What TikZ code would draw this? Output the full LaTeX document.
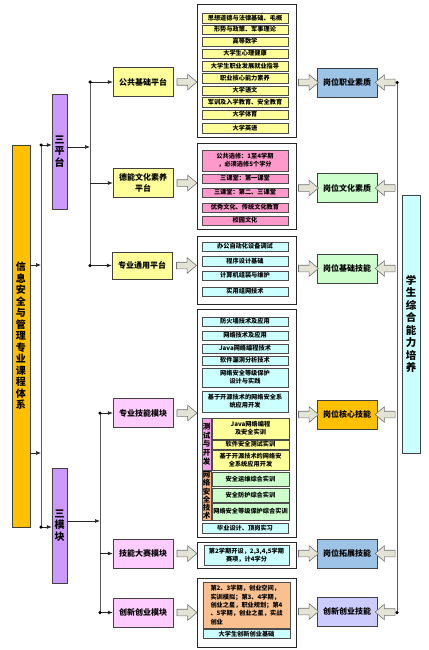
\documentclass[tikz,border=0pt]{standalone}
\usepackage{fontspec}
\setmainfont{Noto Sans CJK SC}
\usetikzlibrary{arrows.meta, positioning, shapes.arrows, calc}

\definecolor{mainorange}{HTML}{FFC000}
\definecolor{platpurple}{HTML}{CC99FF}
\definecolor{boxyellow}{HTML}{FFFF99}
\definecolor{modpink}{HTML}{FFCCFF}
\definecolor{barpink}{HTML}{FF99CC}
\definecolor{barcyan}{HTML}{CCFFFF}
\definecolor{bargreen}{HTML}{CCFFCC}
\definecolor{barpeach}{HTML}{FAC090}
\definecolor{testpink}{HTML}{F2A2E8}
\definecolor{secorange}{HTML}{F9B380}
\definecolor{jobblue}{HTML}{9DC3E6}
\definecolor{jobgreen}{HTML}{CCFFCC}
\definecolor{joblav}{HTML}{CCCCFF}
\definecolor{arrowfill}{HTML}{E4E4D6}

\begin{document}
\begin{tikzpicture}[x=1pt, y=-1pt,
  tallbox/.style={draw=black!75, fill=#1, inner sep=0pt, align=center},
  box/.style={draw=black!75, fill=#1, minimum width=60pt, minimum height=29pt,
              inner sep=0pt, align=center, font=\fontsize{8}{10.5}\selectfont\bfseries},
  grp/.style={draw=black!85, fill=white, minimum width=99pt, inner sep=0pt},
  bar/.style={draw=black!70, fill=#1, minimum width=86pt, minimum height=9.5pt,
              inner sep=0pt, align=center, font=\fontsize{6.2}{7.8}\selectfont\bfseries},
  arr/.style={-{Latex[length=5pt, width=4pt]}, black!85, line width=0.7pt},
  trunk/.style={black!65, line width=0.8pt},
  dot/.style={circle, fill=black, inner sep=0pt, minimum size=3.5pt},
  blockarr/.style={single arrow, draw=black!55, fill=arrowfill, minimum height=20pt,
              minimum width=15pt, inner xsep=0pt, inner ysep=3pt,
              single arrow head extend=4.5pt, single arrow tip angle=80, line width=0.6pt},
  backarr/.style={blockarr, shape border rotate=180}
]
  \useasboundingbox (0,0) rectangle (428,650);

  % left side: course system and its two branches
  \node[tallbox=mainorange, minimum width=18pt, minimum height=382pt,
        font=\fontsize{10}{11.5}\selectfont\bfseries] (sys) at (21,336)
        {信\\息\\安\\全\\与\\管\\理\\专\\业\\课\\程\\体\\系};
  \node[tallbox=platpurple, minimum width=15pt, minimum height=115pt,
        font=\fontsize{10}{11.7}\selectfont\bfseries] (plat) at (59.5,151.5) {三\\平\\台};
  \node[tallbox=platpurple, minimum width=15pt, minimum height=115pt,
        font=\fontsize{10}{11.7}\selectfont\bfseries] (mods) at (59.5,525.5) {三\\模\\块};

  \coordinate (s0) at (41,145);
  \coordinate (s3) at (41,527);
  \coordinate (sa) at (41,265);
  \coordinate (sb) at (41,453);
  \draw[trunk] (s0) -- (s3);
  \draw[arr] (sys.east |- sa) -- (sa);
  \draw[arr] (sys.east |- sb) -- (sb);
  \draw[arr] (s0) -- (plat.west |- s0);
  \draw[arr] (s3) -- (mods.west |- s3);
  \node[dot] (ds0) at (s0) {};
  \node[dot] (ds3) at (s3) {};

  % platforms
  \node[box=boxyellow] (pub) at (143,82) {公共基础平台};
  \node[box=boxyellow] (moral) at (143,183) {德能文化素养\\平台};
  \node[box=boxyellow, minimum height=27pt] (prof) at (142,265.5) {专业通用平台};

  \coordinate (p0) at (90,147);
  \coordinate (p1) at (90,82);
  \coordinate (p2) at (90,183);
  \coordinate (p3) at (90,265.5);
  \draw[trunk] (p1) -- (p3);
  \draw[arr] (plat.east |- p0) -- (p0);
  \draw[arr] (p1) -- (pub.west);
  \draw[arr] (p2) -- (moral.west);
  \draw[arr] (p3) -- (prof.west);
  \node[dot] (dp1) at (p1) {};
  \node[dot] (dp3) at (p3) {};

  % modules
  \node[box=modpink] (skill) at (143,413) {专业技能模块};
  \node[box=modpink] (contest) at (143,553.5) {技能大赛模块};
  \node[box=modpink] (innov) at (143,612.5) {创新创业模块};

  \coordinate (m0) at (100,521);
  \coordinate (m1) at (100,413);
  \coordinate (m2) at (100,553.5);
  \coordinate (m3) at (100,612.5);
  \draw[trunk] (m1) -- (m3);
  \draw[arr] (mods.east |- m0) -- (m0);
  \draw[arr] (m1) -- (skill.west);
  \draw[arr] (m2) -- (contest.west);
  \draw[arr] (m3) -- (innov.west);
  \node[dot] (dm1) at (m1) {};
  \node[dot] (dm3) at (m3) {};

  % course groups
  \node[grp, minimum height=133pt] (g1) at (246.5,70.5) {};
  \node[bar=boxyellow] (c11) at (245,18) {思想道德与法律基础、毛概};
  \node[bar=boxyellow] (c12) at (245,29.5) {形势与政策、军事理论};
  \node[bar=boxyellow] (c13) at (245,41.5) {高等数学};
  \node[bar=boxyellow] (c14) at (245,53.5) {大学生心理健康};
  \node[bar=boxyellow] (c15) at (245,66) {大学生职业发展就业指导};
  \node[bar=boxyellow] (c16) at (245,78) {职业核心能力素养};
  \node[bar=boxyellow] (c17) at (245,90.5) {大学语文};
  \node[bar=boxyellow] (c18) at (245,102) {军训及入学教育、安全教育};
  \node[bar=boxyellow] (c19) at (245,114.5) {大学体育};
  \node[bar=boxyellow] (c1a) at (245,128) {大学英语};

  \node[grp, minimum height=86pt] (g2) at (246.5,186) {};
  \node[bar=barpink, minimum height=21pt] (c21) at (245,160.5) {公共选修：1至4学期\\，必须选修5个学分};
  \node[bar=barpink] (c22) at (245,178.5) {三课堂：第一课堂};
  \node[bar=barpink] (c23) at (245,192.5) {三课堂：第二、三课堂};
  \node[bar=barpink] (c24) at (245,207.5) {优秀文化、传统文化教育};
  \node[bar=barpink] (c25) at (245,220.5) {校园文化};

  \node[grp, minimum height=68pt] (g3) at (246.5,270) {};
  \node[bar=barcyan] (c31) at (245,246.5) {办公自动化设备调试};
  \node[bar=barcyan] (c32) at (245,261) {程序设计基础};
  \node[bar=barcyan] (c33) at (245,275.5) {计算机组装与维护};
  \node[bar=barcyan] (c34) at (245,291.5) {实用组网技术};

  \node[grp, minimum height=228pt] (g4) at (246.5,423) {};
  \node[bar=barcyan] (c41) at (245,321.5) {防火墙技术及应用};
  \node[bar=barcyan] (c42) at (245,335.5) {网络技术及应用};
  \node[bar=barcyan] (c43) at (245,348.5) {Java网络编程技术};
  \node[bar=barcyan] (c44) at (245,360.5) {软件漏洞分析技术};
  \node[bar=barcyan, minimum height=19pt] (c45) at (245,377.5) {网络安全等级保护\\设计与实践};
  \node[bar=barcyan, minimum height=21pt] (c46) at (245,401.5) {基于开源技术的网络安全系\\统应用开发};
  \node[bar=testpink, minimum width=9pt, minimum height=52pt,
        font=\fontsize{7.5}{8.7}\selectfont\bfseries] (test) at (206.5,444) {测\\试\\与\\开\\发};
  \node[bar=secorange, minimum width=9pt, minimum height=49pt,
        font=\fontsize{7.5}{8.2}\selectfont\bfseries] (sec) at (206.5,495.5) {网\\络\\安\\全\\技\\术};
  \node[bar=boxyellow, minimum width=77pt, minimum height=21pt] (c47) at (250.5,428.5) {Java网络编程\\及安全实训};
  \node[bar=boxyellow, minimum width=77pt, minimum height=9pt] (c48) at (250.5,444.5) {软件安全测试实训};
  \node[bar=boxyellow, minimum width=77pt, minimum height=20pt] (c49) at (250.5,460) {基于开源技术的网络安\\全系统应用开发};
  \node[bar=bargreen, minimum width=77pt, minimum height=14pt] (c4a) at (250.5,479) {安全运维综合实训};
  \node[bar=bargreen, minimum width=77pt, minimum height=14pt] (c4b) at (250.5,495) {安全防护综合实训};
  \node[bar=bargreen, minimum width=77pt, minimum height=17pt] (c4c) at (250.5,511.5) {网络安全等级保护综合实训};
  \node[bar=barcyan, minimum height=10pt] (c4d) at (245,528) {毕业设计、顶岗实习};

  \node[grp, minimum height=26pt] (g5) at (246.5,555.5) {};
  \node[bar=barcyan, minimum width=85pt, minimum height=20pt] (c51) at (246.5,555.5) {第2学期开设，2,3,4,5学期\\赛项，计4学分};

  \node[grp, minimum height=69pt] (g6) at (246.5,612.5) {};
  \node[bar=barpeach, minimum width=87pt, minimum height=46pt, align=left,
        font=\fontsize{6.2}{8.3}\selectfont\bfseries] (c61) at (246.5,605)
        {第2、3学期，创业空间，\\实训模拟；第3、4学期，\\创业之星，职业规划；第4\\、5学期，创业之星，实战\\创业};
  \node[bar=barcyan, minimum width=87pt, minimum height=9pt] (c62) at (246.5,634) {大学生创新创业基础};

  % block arrows into the groups
  \node[blockarr] (ba1) at ($(pub.east)!.5!(g1.west |- pub.east)$) {};
  \node[blockarr] (ba2) at ($(moral.east)!.5!(g2.west |- moral.east)$) {};
  \node[blockarr] (ba3) at ($(prof.east)!.5!(g3.west |- prof.east)$) {};
  \node[blockarr] (ba4) at ($(skill.east)!.5!(g4.west |- skill.east)$) {};
  \node[blockarr] (ba5) at ($(contest.east)!.5!(g5.west |- contest.east)$) {};
  \node[blockarr] (ba6) at ($(innov.east)!.5!(g6.west |- innov.east)$) {};

  % job abilities
  \node[box=jobblue] (jobqual) at (347,82.5) {岗位职业素质};
  \node[box=jobgreen] (jobcult) at (347,188) {岗位文化素质};
  \node[box=jobgreen] (jobbase) at (347,268.5) {岗位基础技能};
  \node[box=mainorange] (jobcore) at (347,414.5) {岗位核心技能};
  \node[box=jobblue] (jobext) at (347,553.5) {岗位拓展技能};
  \node[box=joblav] (jobinno) at (347,611.5) {创新创业技能};

  \node[blockarr] (bb1) at ($(g1.east |- jobqual.west)!.5!(jobqual.west)$) {};
  \node[blockarr] (bb2) at ($(g2.east |- jobcult.west)!.5!(jobcult.west)$) {};
  \node[blockarr] (bb3) at ($(g3.east |- jobbase.west)!.5!(jobbase.west)$) {};
  \node[blockarr] (bb4) at ($(g4.east |- jobcore.west)!.5!(jobcore.west)$) {};
  \node[blockarr] (bb5) at ($(g5.east |- jobext.west)!.5!(jobext.west)$) {};
  \node[blockarr] (bb6) at ($(g6.east |- jobinno.west)!.5!(jobinno.west)$) {};

  % overall ability
  \node[tallbox=barcyan, minimum width=18pt, minimum height=258pt,
        font=\fontsize{10.5}{12.5}\selectfont\bfseries] (ability) at (411,324)
        {学\\生\\综\\合\\能\\力\\培\\养};

  \coordinate (r1) at (397,82.5);
  \coordinate (r2) at (397,188);
  \coordinate (r3) at (397,268.5);
  \coordinate (r4) at (397,414.5);
  \coordinate (r5) at (397,553.5);
  \coordinate (r6) at (397,612.5);
  \draw[trunk] (r1) -- (r6);
  \node[dot] (dr1) at (r1) {};
  \node[dot] (dr6) at (r6) {};
  \node[backarr] (bc1) at ($(r1)!.5!(jobqual.east)$) {};
  \node[backarr] (bc2) at ($(r2)!.5!(jobcult.east)$) {};
  \node[backarr] (bc3) at ($(r3)!.5!(jobbase.east)$) {};
  \node[backarr] (bc4) at ($(r4)!.5!(jobcore.east)$) {};
  \node[backarr] (bc5) at ($(r5)!.5!(jobext.east)$) {};
  \node[backarr] (bc6) at ($(r6)!.5!(jobinno.east)$) {};
\end{tikzpicture}
\end{document}
